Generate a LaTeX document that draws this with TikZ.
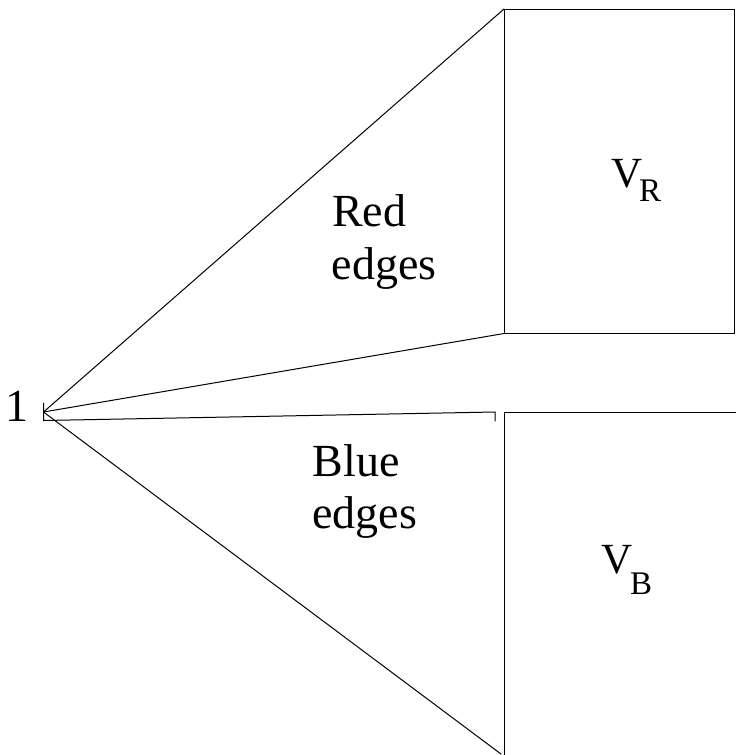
\documentclass[tikz,border=0pt]{standalone}
\usepackage{fontspec}
\setmainfont{Liberation Serif}
\tikzset{
  edge/.style={line width=1pt, line cap=round, line join=miter},
  lbl/.style={inner sep=0pt, anchor=base west, font=\fontsize{46}{54}\selectfont},
  vlbl/.style={inner sep=0pt, anchor=base west, font=\fontsize{43}{50}\selectfont},
  sublbl/.style={inner sep=0pt, anchor=base west, font=\fontsize{33}{39}\selectfont}
}
\begin{document}
\begin{tikzpicture}[x=1pt, y=-1pt]
\useasboundingbox (0,0) rectangle (736,755);
% key points
\coordinate (apex) at (43.5,412);
\coordinate (rtl) at (504,9);
\coordinate (rtr) at (734.5,9);
\coordinate (rbr) at (734.5,333.5);
\coordinate (rbl) at (504,333.5);
\coordinate (tktop) at (43.5,403);
\coordinate (tkbot) at (43.5,420.5);
\coordinate (tkend) at (495,412);
\coordinate (tkdrop) at (495,421);
\coordinate (bend) at (501,754);
\coordinate (btl) at (504,412);
\coordinate (btr) at (736,412);
\coordinate (bbl) at (504,755);
% red part
\draw[edge] (apex) -- (rtl);
\draw[edge] (apex) -- (rbl);
\draw[edge] (rtl) -- (rtr) -- (rbr) -- (rbl) -- cycle;
% blue part
\draw[edge] (tktop) -- (tkbot) -- (tkend) -- (tkdrop);
\draw[edge] (apex) -- (bend);
\draw[edge] (btr) -- (btl) -- (bbl);
% labels
\node[lbl, anchor=base] (one) at (17,421.5) {1};
\node[lbl] (red) at (332,226.7) {Red};
\node[lbl] (rededges) at (331.7,279) {edges};
\node[lbl] (blue) at (312.5,476.7) {Blue};
\node[lbl] (blueedges) at (312,528) {edges};
\node[vlbl] (vr) at (611,187) {V};
\node[sublbl] (vrsub) at (639,201.7) {R};
\node[vlbl] (vb) at (601,573) {V};
\node[sublbl] (vbsub) at (630,594) {B};
\end{tikzpicture}
\end{document}
